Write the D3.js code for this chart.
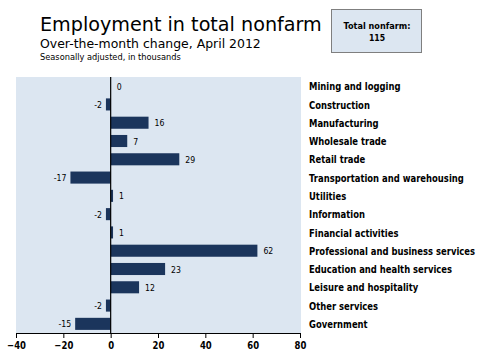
<!DOCTYPE html>
<html><head><meta charset="utf-8">
<script src="https://cdn.jsdelivr.net/npm/d3@7"></script>
<style>body{margin:0;background:#fff;}svg{display:block;}</style>
</head><body>
<svg id="c" width="480" height="358"></svg>
<script>
const categories = ["Mining and logging","Construction","Manufacturing","Wholesale trade","Retail trade","Transportation and warehousing","Utilities","Information","Financial activities","Professional and business services","Education and health services","Leisure and hospitality","Other services","Government"];
const values = [0,-2,16,7,29,-17,1,-2,1,62,23,12,-2,-15];
const xTicks = [-40,-20,0,20,40,60,80];
const totalLabel = "Total nonfarm:";
const totalValue = 115;

(function(){
const svg = d3.select("#c");
const font = "DejaVu Sans, Verdana, sans-serif";
const pL = 16, pR = 300, pT = 77, pB = 333;

const x = d3.scaleLinear().domain([-40,80]).range([pL,pR]);
const y = d3.scaleBand().domain(categories).range([pT,pB]).paddingInner(0.34).paddingOuter(0.17);

// text placed at (tx,ty) and horizontally compressed by f
function place(sel, tx, ty, f){
  sel.attr("x",0).attr("y",0)
     .attr("transform",(d,i)=>`translate(${tx(d,i)},${ty(d,i)}) scale(${f},1)`);
}

svg.append("rect").attr("x",pL).attr("y",pT).attr("width",pR-pL+1).attr("height",pB-pT).attr("fill","#dce6f1");

// titles
const t1 = svg.append("text").attr("font-family",font).attr("font-size",20).attr("fill","#000").text("Employment in total nonfarm");
place(t1,()=>40,()=>31,282/t1.node().getComputedTextLength());
const t2 = svg.append("text").attr("font-family",font).attr("font-size",12.5).attr("fill","#000").text("Over-the-month change, April 2012");
place(t2,()=>40,()=>47.5,221/t2.node().getComputedTextLength());
const t3 = svg.append("text").attr("font-family",font).attr("font-size",9).attr("fill","#000").text("Seasonally adjusted, in thousands");
place(t3,()=>40,()=>60,141/t3.node().getComputedTextLength());

// total box
svg.append("rect").attr("x",331.5).attr("y",9.5).attr("width",90).attr("height",43).attr("fill","#dce6f1").attr("stroke","#7f7f7f").attr("stroke-width",1);
const b1 = svg.append("text").attr("text-anchor","middle").attr("font-family",font).attr("font-weight","bold").attr("font-size",9.5).text(totalLabel);
place(b1,()=>377,()=>29,67/b1.node().getComputedTextLength());
const b2 = svg.append("text").attr("text-anchor","middle").attr("font-family",font).attr("font-weight","bold").attr("font-size",9.5).text(totalValue);
place(b2,()=>377,()=>41,0.82);

// bars
svg.append("g").selectAll("rect").data(values).join("rect")
  .attr("x",d=>x(Math.min(0,d)))
  .attr("y",(d,i)=>y(categories[i]))
  .attr("width",d=>Math.abs(x(d)-x(0)))
  .attr("height",y.bandwidth())
  .attr("fill","#1b355c");

// value labels
const vl = svg.append("g").selectAll("text").data(values).join("text")
  .attr("dy","0.38em")
  .attr("text-anchor",d=>d<0?"end":"start")
  .attr("font-family",font).attr("font-size",9.5).attr("fill","#000")
  .text(d=>d);
place(vl,d=>d<0 ? x(d)-4 : x(d)+6,(d,i)=>y(categories[i])+y.bandwidth()/2,0.82);

// category labels
const cl = svg.append("g").selectAll("text").data(categories).join("text")
  .attr("dy","0.4em")
  .attr("font-family",font).attr("font-weight","bold").attr("font-size",10.5).attr("fill","#000")
  .text(d=>d);
const tw = cl.filter(d=>d==="Transportation and warehousing").node().getComputedTextLength();
place(cl,()=>309,d=>y(d)+y.bandwidth()/2,155/tw);

// zero line
svg.append("line").attr("x1",x(0)).attr("x2",x(0)).attr("y1",pT).attr("y2",pB).attr("stroke","#000").attr("stroke-width",1.2);

// axis
const ax = svg.append("g").attr("transform",`translate(0,${pB})`)
  .call(d3.axisBottom(x).tickValues(xTicks).tickSize(5).tickPadding(4).tickFormat(d3.format("d")));
ax.select(".domain").attr("stroke","#000");
ax.selectAll("line").attr("stroke","#000");
ax.selectAll("text").attr("font-family",font).attr("font-weight","bold").attr("font-size",10).attr("fill","#000")
  .attr("transform","scale(0.85,1)").attr("x",0);
})();
</script>
</body></html>
